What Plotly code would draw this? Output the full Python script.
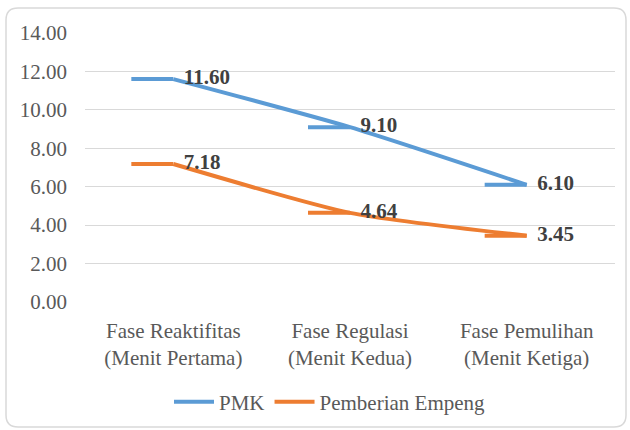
import plotly.graph_objects as go

categories = ["Fase Reaktifitas<br>(Menit Pertama)", "Fase Regulasi<br>(Menit Kedua)", "Fase Pemulihan<br>(Menit Ketiga)"]
pmk = [11.60, 9.10, 6.10]
empeng = [7.18, 4.64, 3.45]
series_names = ["PMK", "Pemberian Empeng"]
y_ticks = [0, 2, 4, 6, 8, 10, 12, 14]

W, H = 630, 430
ML, MR, MT, MB = 85, 15, 33, 128
PW, PH = W - ML - MR, H - MT - MB
x_idx = list(range(len(categories)))
X_RANGE = [-0.5, len(categories) - 0.5]
dash_len = 42 / (PW / (X_RANGE[1] - X_RANGE[0]))

BLUE = "#5B9BD5"
ORANGE = "#ED7D31"
FONT = "Liberation Serif"

fig = go.Figure()
for name, vals, col in [(series_names[0], pmk, BLUE), (series_names[1], empeng, ORANGE)]:
    fig.add_trace(go.Scatter(
        x=x_idx, y=vals, name=name, mode="lines",
        line=dict(color=col, width=4, shape="spline", smoothing=0.6),
    ))
    fig.add_trace(go.Scatter(
        x=x_idx, y=vals, mode="markers", showlegend=False, hoverinfo="skip",
        marker=dict(size=1, opacity=0),
        error_x=dict(type="constant", symmetric=False, value=0, valueminus=dash_len,
                     width=0, thickness=4, color=col),
    ))
for vals in [pmk, empeng]:
    fig.add_trace(go.Scatter(
        x=x_idx, y=vals, mode="text", showlegend=False, hoverinfo="skip",
        text=[f"  {v:.2f}" for v in vals], textposition="middle right",
        textfont=dict(family=FONT, size=21, color="#404040", weight="bold"),
    ))

def px(xp):
    return (xp - ML) / PW

def py(yp):
    return (H - MB - yp) / PH

x0, x1, y0, y1, r = 6, 626, 8, 427, 12
path = (f"M {px(x0 + r)} {py(y0)} L {px(x1 - r)} {py(y0)} Q {px(x1)} {py(y0)} {px(x1)} {py(y0 + r)} "
        f"L {px(x1)} {py(y1 - r)} Q {px(x1)} {py(y1)} {px(x1 - r)} {py(y1)} "
        f"L {px(x0 + r)} {py(y1)} Q {px(x0)} {py(y1)} {px(x0)} {py(y1 - r)} "
        f"L {px(x0)} {py(y0 + r)} Q {px(x0)} {py(y0)} {px(x0 + r)} {py(y0)} Z")
fig.add_shape(type="path", path=path, xref="paper", yref="paper",
              line=dict(color="#D9D9D9", width=1.5), layer="below")

fig.update_layout(
    width=W, height=H,
    margin=dict(l=ML, r=MR, t=MT, b=MB, autoexpand=False),
    paper_bgcolor="white", plot_bgcolor="white",
    font=dict(family=FONT, size=21, color="#595959"),
    showlegend=True,
    legend=dict(orientation="h", xref="container", yref="container",
                x=330 / W, y=1 - 402 / H, xanchor="center", yanchor="middle",
                font=dict(family=FONT, size=21, color="#595959"), itemwidth=40),
    xaxis=dict(range=X_RANGE, tickmode="array", tickvals=x_idx, ticktext=categories,
               showgrid=False, zeroline=False, showline=False, automargin=False,
               ticklabelstandoff=14,
               tickfont=dict(family=FONT, size=21, color="#595959")),
    yaxis=dict(range=[0, 14], tickmode="array", tickvals=y_ticks,
               ticktext=[f"{v:.2f}" for v in y_ticks], automargin=False,
               showgrid=True, gridcolor="#D9D9D9", gridwidth=1, zeroline=False,
               showline=False, ticklabelstandoff=17,
               tickfont=dict(family=FONT, size=21, color="#595959")),
)

fig.write_html("out.html", config={"displayModeBar": False},
               post_script="document.body.style.margin='0';")
